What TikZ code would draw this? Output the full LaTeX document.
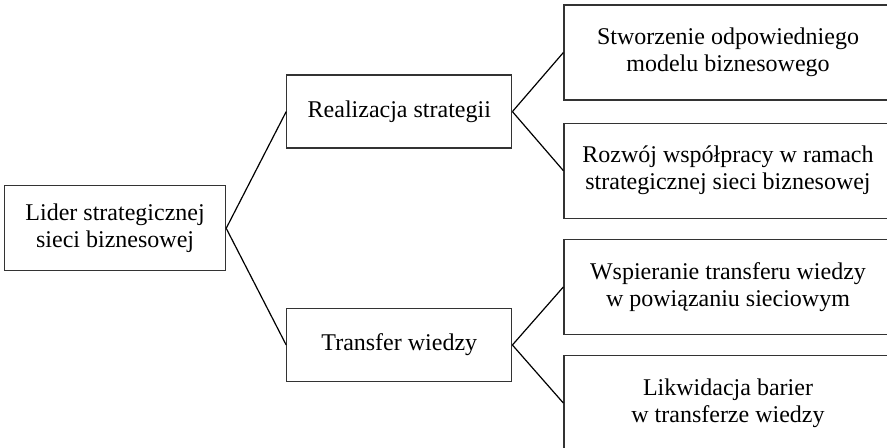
\documentclass[tikz,border=0pt]{standalone}
\usepackage{fontspec}
\setmainfont{Liberation Serif}
\usetikzlibrary{calc}
\usetikzlibrary{positioning}

\begin{document}
\begin{tikzpicture}[x=0.5pt, y=-0.5pt,
    every node/.style={draw=black!80, line width=0.6pt, align=center, inner sep=2pt,
      font=\fontsize{12}{13.5}\selectfont},
    goal/.style={minimum width=164pt, minimum height=47.5pt},
    area/.style={minimum width=112.5pt, minimum height=36.5pt},
    leader/.style={minimum width=110.5pt, minimum height=42.5pt},
    node distance=10pt]
  \useasboundingbox (0,0) rectangle (887,448);

  % right column
  \node [goal] at (728,52.5) (model) {Stworzenie odpowiedniego\\modelu biznesowego};
  \node [goal, below=11pt of model] (wspolpraca) {Rozwój współpracy w ramach\\strategicznej sieci biznesowej};
  \node [goal, below=of wspolpraca] (wspieranie) {Wspieranie transferu wiedzy\\w powiązaniu sieciowym};
  \node [goal, below=of wspieranie] (bariery) {Likwidacja barier\\w transferze wiedzy};

  % middle column
  \node [area, left=25.5pt of $(model.west)!0.5!(wspolpraca.west)$] (realizacja) {Realizacja strategii};
  \node [area, left=25.5pt of $(wspieranie.west)!0.5!(bariery.west)$] (transfer) {Transfer wiedzy};

  \node [leader, left=30pt of $(realizacja.west)!0.5!(transfer.west)$] (lider) {Lider strategicznej\\sieci biznesowej};

  \draw [line width=0.6pt] (lider.east) -- (realizacja.west);
  \draw [line width=0.6pt] (lider.east) -- (transfer.west);
  \draw [line width=0.6pt] (realizacja.east) -- (model.west);
  \draw [line width=0.6pt] (realizacja.east) -- (wspolpraca.west);
  \draw [line width=0.6pt] (transfer.east) -- (wspieranie.west);
  \draw [line width=0.6pt] (transfer.east) -- (bariery.west);
\end{tikzpicture}
\end{document}
